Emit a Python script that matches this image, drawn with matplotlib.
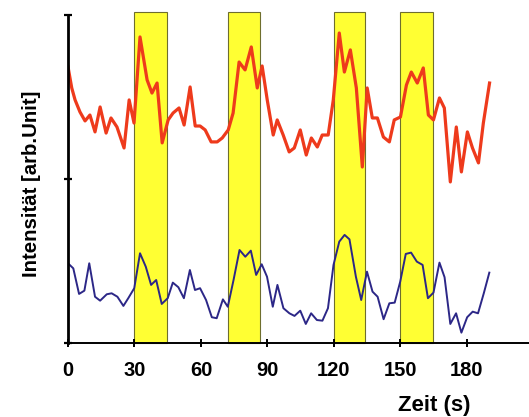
"""
Stimulus response: two intensity traces with stimulus windows (yellow)
"""

import matplotlib.pyplot as plt

# stimulus windows (s)
stim_start = [30, 72, 120, 150]
stim_end = [44.5, 86.5, 134, 164.5]

# upper trace (red)
t_red = [0.0, 1.7, 3.2, 5.4, 7.7, 9.9, 12.2, 14.5, 17.2, 19.4, 22.1, 25.3, 27.6, 29.8,
         32.5, 35.7, 37.9, 40.2, 42.5, 45.2, 47.4, 50.1, 52.4, 55.1, 57.4, 59.6, 61.9,
         64.6, 67.3, 69.6, 72.3, 74.5, 77.2, 79.9, 82.7, 85.4, 87.6, 89.9, 92.6, 94.4,
         97.1, 99.8, 102.1, 104.8, 107.5, 109.8, 112.5, 114.7, 117.4, 119.7, 122.4,
         124.7, 127.4, 130.1, 132.8, 135.0, 137.3, 139.6, 142.3, 145.0, 147.2, 150.0,
         152.7, 154.9, 157.6, 160.3, 162.6, 164.9, 167.6, 169.8, 172.5, 175.2, 177.5,
         180.2, 182.5, 185.2, 187.4, 190.2]
red = [168.5, 155.5, 148.2, 140.9, 135.4, 139.0, 128.7, 143.9, 128.0, 137.2, 131.7,
       118.9, 148.2, 134.1, 186.6, 160.4, 152.4, 158.5, 122.0, 136.0, 140.2, 143.3,
       132.9, 156.1, 132.3, 132.3, 129.9, 122.6, 122.6, 125.0, 129.9, 140.2, 171.3,
       166.5, 180.5, 155.5, 168.9, 148.2, 126.8, 136.0, 126.8, 116.5, 118.9, 129.9,
       114.6, 125.0, 119.5, 126.8, 126.8, 148.2, 189.0, 165.2, 178.7, 155.5, 107.3,
       155.5, 137.2, 137.2, 125.6, 122.6, 136.0, 137.8, 157.3, 165.2, 158.5, 167.7,
       139.0, 136.0, 149.4, 143.3, 98.2, 131.7, 104.3, 128.7, 118.9, 109.8, 134.1, 158.5]

# lower trace (blue)
t_blue = [0.0, 2.4, 5.0, 7.4, 9.6, 12.2, 14.5, 17.5, 19.7, 22.3, 25.0, 27.2, 29.9, 32.5,
          35.1, 37.5, 39.8, 42.3, 45.0, 47.3, 49.8, 52.3, 55.0, 57.3, 59.6, 62.3, 64.9,
          67.1, 69.9, 72.1, 74.7, 77.4, 80.0, 82.5, 84.9, 87.4, 89.8, 92.4, 94.5, 97.2,
          99.9, 102.2, 104.8, 107.3, 109.7, 112.3, 114.8, 117.3, 119.8, 122.4, 124.8,
          127.0, 129.9, 132.3, 134.9, 137.4, 139.7, 142.4, 145.0, 147.4, 149.9, 152.4,
          154.8, 157.4, 160.0, 162.4, 164.9, 167.6, 169.9, 172.5, 175.1, 177.5, 180.1,
          182.6, 185.0, 187.6, 190.1]
blue = [48.6, 45.5, 29.9, 31.9, 48.6, 28.2, 25.8, 29.7, 30.3, 28.2, 22.6, 27.3, 33.4,
        54.7, 46.5, 35.4, 38.4, 23.8, 27.3, 36.8, 34.0, 27.3, 44.5, 32.3, 33.4, 26.2,
        15.7, 15.1, 26.6, 22.1, 38.4, 56.7, 52.6, 56.3, 41.5, 48.0, 40.4, 22.1, 35.4,
        21.2, 18.1, 16.5, 19.7, 11.6, 18.1, 14.0, 13.6, 21.2, 47.6, 61.8, 65.9, 63.2,
        40.4, 26.2, 43.5, 31.3, 28.2, 14.5, 24.2, 24.6, 37.4, 54.3, 55.1, 49.6, 47.6,
        27.3, 30.7, 49.0, 40.1, 11.6, 18.1, 6.3, 15.7, 19.1, 18.1, 30.3, 42.9]

x_ticks = [0, 30, 60, 90, 120, 150, 180]
y_ticks = [0, 100, 200]

plt.rcParams['font.family'] = ['Liberation Sans', 'DejaVu Sans']

fig = plt.figure(figsize=(5.29, 4.17), dpi=100)
ax = fig.add_axes([0.1285, 0.1775, 0.8715, 0.7866])

for s, e in zip(stim_start, stim_end):
    ax.bar(s, 202, width=e - s, bottom=0, align='edge', color='#ffff33',
           edgecolor='#6e6e2e', linewidth=0.8, clip_on=False, zorder=1)

ax.plot(t_red, red, color='#ee3a1c', linewidth=2.3, zorder=3)
ax.plot(t_blue, blue, color='#2c2787', linewidth=1.4, zorder=3)

ax.set_xlim(0, 208)
ax.set_ylim(0, 200)

for side in ['top', 'right']:
    ax.spines[side].set_visible(False)
ax.spines['left'].set_linewidth(2.0)
ax.spines['bottom'].set_linewidth(1.4)
ax.spines['left'].set_zorder(4)

ax.set_xticks(x_ticks)
ax.set_xticklabels([str(v) for v in x_ticks], fontsize=14.5, fontweight='bold')
ax.set_yticks(y_ticks)
ax.set_yticklabels([])
ax.tick_params(axis='x', direction='inout', length=6, width=1.4, pad=10)
ax.tick_params(axis='y', direction='inout', length=6, width=1.6)

# axis titles placed at the positions they have in the original figure
fig.text(32 / 529, 1 - 184 / 417, 'Intensität [arb.Unit]', rotation=90,
         ha='center', va='center', fontsize=14.7, fontweight='bold')
fig.text(434 / 529, 1 - 405 / 417, 'Zeit (s)', ha='center', va='center',
         fontsize=16, fontweight='bold')

fig.savefig('out.png', dpi=100, facecolor='white')
